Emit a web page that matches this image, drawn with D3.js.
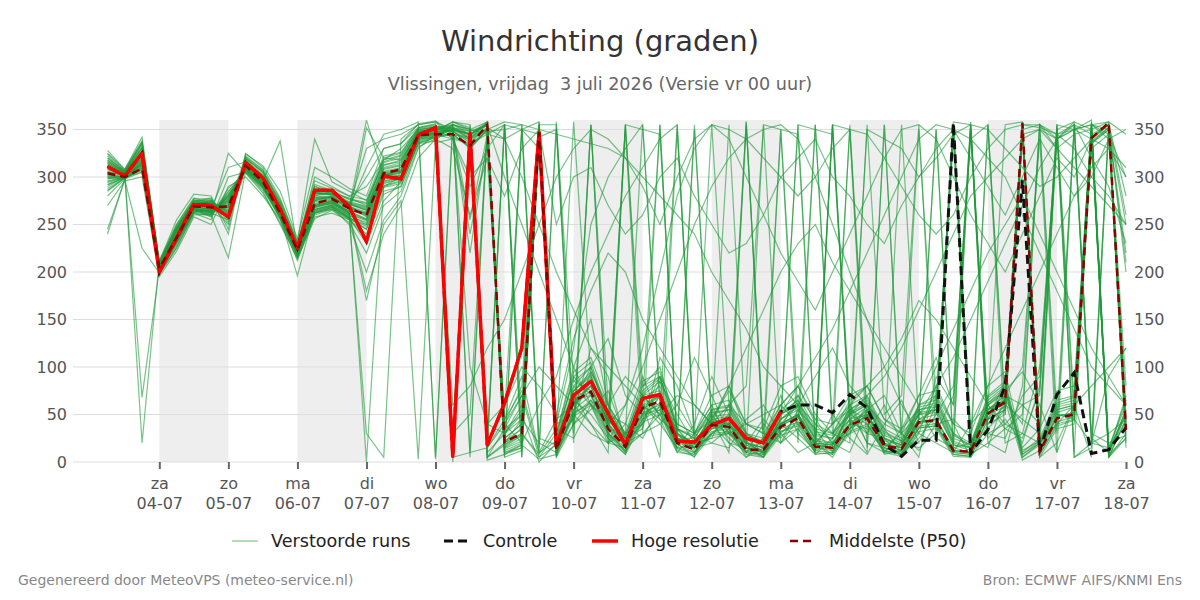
<!DOCTYPE html>
<html>
<head>
<meta charset="utf-8">
<script src="https://cdn.jsdelivr.net/npm/d3@7"></script>
<style>
  body { margin: 0; background: #fff; }
  svg text { font-family: "DejaVu Sans", sans-serif; }
</style>
</head>
<body>
<svg id="drawing_region"></svg>
<script>
// values (6-hourly, 03-07 06:00 .. 18-07 00:00)
const dayLabels  = ['za','zo','ma','di','wo','do','vr','za','zo','ma','di','wo','do','vr','za'];
const dateLabels = ['04-07','05-07','06-07','07-07','08-07','09-07','10-07','11-07','12-07','13-07','14-07','15-07','16-07','17-07','18-07'];
const yTicks = [0, 50, 100, 150, 200, 250, 300, 350];
const shadedDays = [4, 6, 8, 10, 12, 14, 16];

const hiRes = [311,301,325,200,236,271,270,258,315,299,266,225,286,286,269,232,301,298,344,352,
  6,346,18,62,120,347,16,70,85,51,18,67,71,22,21,39,46,25,20,53];

const control = [311,301,325,200,236,271,270,258,315,299,266,225,286,286,269,232,301,298,344,352,
  6,346,18,62,120,347,16,70,85,51,18,67,71,22,21,39,46,25,20,
  53,60,60,52,71,57,18,6,23,23,357,9,34,80,297,11,71,94,9,13,36];

const median = [304,300,309,204,236,269,268,269,312,295,262,223,272,277,267,260,304,308,344,345,
  345,333,355,21,30,347,13,64,74,35,16,57,64,20,13,39,37,13,13,37,
  46,16,15,39,46,17,14,42,44,12,11,51,63,357,11,46,50,341,357,34];

const perturbed = [
  [318,305,330,207,240,272,275,262,318,300,270,228,280,285,272,265,310,315,348,350, 352,340,358,15,25,340,10,60,80,40, 20,55,70,25,15,35,40,15,10,40, 50,20,18,35,50,20,15,45,40,10, 8,55,70,355,15,50,45,338,352,250],
  [300,298,315,200,230,265,260,280,310,290,258,196,265,270,260,250,295,300,340,342, 345,330,350,25,40,350,25,45,95,60, 30,40,85,50,20,25,60,40,30,20, 55,35,10,60,30,25,5,30,80,40, 350,30,25,70,90,340,350,20,15,60],
  [325,308,338,210,245,276,270,250,320,305,275,230,290,282,278,270,320,325,352,355, 5,350,10,30,55,355,20,80,100,45, 25,70,85,30,20,50,55,20,15,45, 60,25,20,50,60,25,18,50,55,20, 15,60,75,5,20,55,60,350,5,45],
  [290,300,305,198,225,262,255,300,305,285,250,215,258,262,255,240,285,290,335,338, 355,345,355,10,15,345,5,80,60,20, 40,90,45,10,30,60,20,5,25,70, 30,12,50,25,8,40,65,20,60,358, 355,25,45,20,80,355,10,355,345,20],
  [310,302,320,205,235,270,265,275,315,298,268,225,275,280,270,330,340,345,355,358, 350,220,340,40,80,355,30,95,110,60, 30,85,95,40,30,60,65,30,25,55, 70,35,30,60,70,35,25,60,65,30, 20,70,85,10,25,65,70,355,10,55],
  [270,296,300,195,222,258,250,290,300,280,255,212,262,268,250,200,255,280,330,345, 340,335,345,355,20,330,40,50,120,90, 20,30,40,60,110,70,30,15,5,50, 80,40,20,10,55,70,30,12,40,45, 25,15,70,100,340,10,60,5,350,80],
  [315,304,20,212,250,278,272,268,322,308,262,228,300,290,280,290,318,330,350,5, 358,350,5,20,30,5,18,65,70,38, 18,52,60,22,15,40,42,15,12,38, 48,18,15,40,48,18,12,42,45,12, 10,52,65,2,12,48,52,342,355,35],
  [295,300,68,203,238,268,262,255,308,292,265,220,268,275,262,180,240,270,320,340, 330,260,320,50,350,358,40,120,250,300, 330,355,60,40,30,70,80,40,30,60, 80,45,40,70,80,45,35,70,75,40, 30,80,95,15,35,75,80,358,15,65],
  [305,303,312,206,242,270,268,270,312,296,338,224,278,278,268,360,300,310,345,350, 348,338,352,340,350,345,15,70,40,10, 355,80,100,35,15,50,25,10,40,20, 35,10,355,60,20,15,30,5,90,60, 350,20,10,80,355,330,345,350,5,25],
  [245,297,225,199,228,263,266,310,316,302,272,222,270,272,264,255,305,300,343,347, 10,345,20,355,5,350,25,358,90,40, 355,60,5,350,20,45,355,20,10,350, 50,25,355,40,10,355,20,45,350,15, 10,355,60,350,15,350,45,20,355,40],
  [320,306,335,209,247,274,278,240,325,310,278,232,340,295,285,275,315,320,350,352, 355,5,350,15,350,10,358,30,355,20, 30,355,65,25,355,40,30,358,20,40, 355,20,15,355,50,20,355,40,45,15, 350,55,70,355,20,45,355,345,5,30],
  [300,301,318,202,232,266,258,285,306,288,260,218,266,270,258,30,5,340,355,358, 340,300,320,280,330,350,250,300,310,270, 240,260,300,320,280,250,220,230,260,300, 320,340,300,280,250,230,270,300,330,350, 320,290,260,300,340,310,280,300,340,350],
  [312,304,328,208,244,271,271,265,314,297,266,226,282,283,270,258,302,305,345,348, 20,350,40,60,100,80,50,130,180,220, 200,150,120,90,60,40,80,120,160,200, 230,250,210,180,150,120,90,60,100,140, 180,220,250,280,240,200,160,120,90,60],
  [285,299,308,201,234,264,264,278,309,291,259,219,262,268,258,245,290,295,338,343, 350,345,355,30,45,20,10,50,30,20, 60,100,150,200,250,290,320,340,350,355, 340,300,250,200,150,100,60,30,20,10, 40,80,120,160,200,240,280,310,330,300],
  [328,308,342,211,255,282,280,245,324,312,285,235,310,300,288,280,330,335,356,359, 345,340,350,358,355,350,345,340,335,330, 320,300,280,260,240,200,170,140,100,80, 60,40,30,50,70,90,120,160,200,240, 280,300,320,340,350,330,310,290,270,250],
  [240,298,310,197,226,260,261,325,304,283,252,214,256,265,252,220,270,285,332,340, 5,10,15,40,70,100,80,60,40,20, 15,30,50,70,60,40,20,15,355,350, 345,20,40,60,80,100,130,170,150,120, 90,60,40,30,20,40,60,80,100,120],
  [308,302,322,204,239,269,267,272,313,295,265,223,276,279,268,310,345,350,358,3, 355,350,345,340,300,250,200,160,120,100, 80,60,45,30,20,25,30,40,50,60, 80,110,140,180,220,260,300,340,355,350, 340,320,300,260,220,180,140,100,80,60],
  [302,300,316,203,237,267,263,268,311,294,263,221,272,276,264,262,303,306,344,346, 350,342,356,18,28,352,30,100,150,60, 20,70,50,20,5,45,80,30,15,50, 60,8,25,45,30,60,20,15,30,70, 355,40,60,45,30,350,358,25,10,70],
  [316,305,332,208,243,273,273,260,317,301,269,227,284,281,273,268,312,318,348,351, 8,355,15,45,90,10,22,75,95,55, 28,72,88,35,25,55,58,25,20,50, 65,30,25,55,65,30,22,55,60,25, 18,65,80,8,22,60,65,355,8,50],
  [292,299,310,200,233,265,262,282,307,289,257,217,264,269,256,250,293,298,340,344, 345,332,350,5,12,340,10,40,55,75, 25,35,110,80,30,20,15,45,60,30, 10,20,40,55,20,10,35,55,25,15, 20,45,85,355,5,20,60,340,355,15],
  [322,306,336,209,248,275,276,255,319,306,273,229,292,286,276,272,316,322,349,353, 352,345,358,22,35,355,355,85,75,45, 20,65,355,20,15,45,40,358,12,40, 50,18,355,42,50,18,15,45,350,12, 10,55,65,355,355,50,50,345,355,35],
  [298,301,314,202,236,266,265,276,310,293,262,220,270,274,262,170,250,275,3,336, 340,290,330,355,350,330,10,55,70,30, 15,50,62,18,10,35,38,12,8,35, 42,15,12,35,45,15,10,38,40,10, 8,50,58,350,12,42,48,336,352,200],
  [306,303,320,205,241,270,269,266,313,297,266,224,279,280,269,259,300,304,344,347, 0,340,5,35,50,0,20,90,70,35, 10,60,40,15,40,90,50,25,10,35, 70,45,20,30,60,35,10,25,50,80, 340,355,20,30,100,345,350,355,340,60],
  [280,298,305,199,231,262,259,288,305,287,256,216,260,266,255,235,282,290,336,341, 355,348,355,12,20,345,8,55,85,50, 40,25,60,35,12,30,40,10,25,60, 40,20,5,35,55,25,15,60,70,40, 5,30,40,60,70,350,5,20,30,45],
  [314,304,326,207,245,272,274,263,316,300,268,226,283,282,271,265,308,312,347,350, 348,255,345,30,60,350,25,90,105,50, 25,80,90,35,28,55,60,28,22,52, 65,32,28,55,68,32,22,58,62,28, 18,68,82,12,22,62,68,352,12,52],
  [296,300,313,201,235,266,264,279,309,292,261,219,268,273,260,352,320,318,346,349, 358,352,2,8,18,3,8,52,62,28, 10,45,55,14,8,30,32,10,6,32, 38,12,10,32,40,12,8,36,38,8, 6,45,55,355,8,38,44,336,350,210],
  [310,303,324,206,243,271,270,268,314,298,267,225,277,279,269,263,305,308,346,349, 342,335,348,350,355,25,18,70,88,42, 355,350,345,25,20,48,50,20,15,45, 58,22,20,45,58,22,18,50,52,18, 12,60,72,358,18,52,58,350,358,42],
  [288,299,309,200,232,264,261,284,308,290,258,218,263,267,257,248,291,296,339,344, 350,340,355,20,45,352,20,75,92,45, 22,65,80,28,20,45,48,20,15,45, 355,350,345,50,60,25,18,52,55,18, 15,62,75,5,18,55,60,352,5,45],
  [324,307,337,210,250,277,277,252,321,307,276,231,296,288,280,276,322,326,351,354, 345,240,335,45,75,10,45,60,100,130, 70,50,90,60,30,45,75,40,35,80, 90,50,30,65,80,45,30,70,110,60, 358,50,75,95,60,10,355,20,90,120],
  [304,302,318,204,238,268,266,271,312,295,264,222,274,277,266,260,301,305,344,347, 352,345,356,14,22,348,10,50,65,45, 20,40,70,30,10,30,45,15,10,40, 50,20,8,40,55,10,12,45,50,340, 15,35,55,345,350,340,358,350,8,25],
  [300,300,316,203,236,267,263,274,310,293,262,221,270,274,263,0,290,300,342,346, 10,350,25,355,5,345,15,62,80,35, 18,58,70,22,15,38,40,15,10,38, 48,18,15,38,48,18,12,42,45,12, 10,52,65,355,12,48,52,342,356,280],
  [312,304,327,207,244,272,272,264,315,299,267,226,281,282,271,266,306,310,346,350, 348,336,352,10,18,342,350,40,65,30, 12,48,58,15,10,32,35,10,8,32, 40,12,355,350,40,12,8,36,38,8, 6,45,55,350,8,40,45,335,350,25],
  [294,300,312,201,234,265,263,280,308,291,260,219,266,271,259,252,294,299,341,345, 355,350,358,25,40,355,12,65,50,25, 8,70,75,30,15,20,35,5,15,40, 25,8,10,45,50,20,8,45,55,350, 8,20,35,50,355,345,355,30,20,28],
  [318,305,331,208,246,274,274,258,318,303,270,228,288,284,274,269,313,316,348,351, 350,330,350,35,70,5,30,85,100,50, 28,75,90,35,25,52,55,25,20,50, 62,28,25,52,62,28,20,55,58,22, 15,62,78,8,20,58,62,350,10,50],
  [286,299,307,200,231,263,260,215,306,289,257,217,262,266,256,245,289,293,337,342, 345,342,350,8,15,338,6,48,60,25, 8,42,50,12,6,28,30,8,5,28, 35,10,8,30,38,10,6,32,35,6, 5,40,50,345,5,35,40,330,345,300],
  [308,303,323,205,240,270,268,269,313,297,266,224,278,279,268,261,304,307,345,348, 358,355,5,18,30,8,35,25,60,45, 25,50,55,10,8,55,30,20,45,25, 50,15,20,40,35,12,18,50,70,30, 15,55,65,40,355,340,350,360,15,40],
  [320,306,334,209,247,275,275,256,320,305,272,229,290,285,277,273,318,323,350,353, 350,344,356,20,35,350,18,75,90,40, 15,45,70,25,25,35,50,18,5,45, 55,25,12,55,45,8,12,40,60,355, 20,60,35,25,75,355,350,340,10,55],
  [302,301,317,203,237,267,265,273,311,294,263,221,271,275,264,256,299,302,343,346, 350,345,355,300,250,200,150,100,60,40, 60,120,200,280,330,355,350,340,320,300, 280,300,330,350,345,320,290,260,240,260, 300,330,350,355,352,345,330,300,280,250],
  [314,304,327,207,245,272,273,262,316,300,268,227,284,283,272,267,309,313,347,351, 352,348,354,16,28,350,28,60,75,30, 12,65,60,15,18,42,40,22,8,30, 48,12,18,50,40,15,8,35,68,20, 355,45,70,60,40,340,5,15,355,30],
  [298,300,314,202,235,266,264,277,309,292,261,220,268,272,261,254,296,300,341,345, 350,100,40,30,50,350,20,65,80,40, 20,60,70,25,18,42,45,18,12,40, 50,20,18,40,350,340,330,300,320,345, 355,350,330,310,290,300,320,340,330,310],
  [305,302,319,204,239,268,266,270,312,296,265,223,275,278,267,262,302,306,345,349, 355,10,350,5,355,15,350,20,355,25, 350,30,355,20,350,45,10,355,30,350, 20,355,40,350,15,355,30,350,60,355, 20,355,50,350,355,30,350,355,358,345],
  [292,300,311,201,233,265,262,281,307,290,258,218,264,269,257,230,275,295,335,342, 60,80,120,150,200,250,300,330,350,340, 320,290,250,300,340,355,340,300,260,220, 190,160,200,240,280,320,350,355,340,300, 260,230,200,240,280,320,300,340,355,260],
  [316,305,330,208,244,273,272,261,317,301,268,227,283,282,272,300,330,335,352,356, 30,50,350,40,20,60,90,150,200,240, 280,310,340,355,20,40,60,30,20,40, 60,90,120,80,60,40,30,50,80,110, 150,190,230,270,310,340,355,320,290,230],
  [300,301,315,202,236,266,264,275,310,293,262,220,269,273,262,255,298,301,342,346, 350,345,15,355,40,358,5,40,355,60, 90,70,50,355,30,355,60,80,355,20, 45,355,30,20,355,50,70,355,25,355, 40,60,355,358,30,355,60,355,350,220]
];

const config = {
  width: 1200, height: 600,
  left: 73, right: 1126, top: 120, bottom: 462
};

const times = d3.range(60).map(i => new Date(2026, 6, 3, 6 + 6 * i));
const days = d3.range(4, 19).map(d => new Date(2026, 6, d));

const svg = d3.select('#drawing_region')
  .attr('width', config.width)
  .attr('height', config.height);

const xscale = d3.scaleTime()
  .domain([new Date(2026, 6, 2, 18), new Date(2026, 6, 18)])
  .range([config.left, config.right]);

const yscale = d3.scaleLinear()
  .domain([0, 360])
  .range([config.bottom, config.top]);

// shading on alternating days
svg.append('g').selectAll('rect').data(shadedDays).enter()
  .append('rect')
  .attr('x', d => xscale(new Date(2026, 6, d)))
  .attr('width', d => xscale(new Date(2026, 6, d + 1)) - xscale(new Date(2026, 6, d)))
  .attr('y', config.top)
  .attr('height', config.bottom - config.top)
  .attr('fill', '#eeeeee');

// grid
svg.append('g').selectAll('line').data(yTicks).enter()
  .append('line')
  .attr('x1', config.left).attr('x2', config.right)
  .attr('y1', d => yscale(d)).attr('y2', d => yscale(d))
  .attr('stroke', '#dddddd').attr('stroke-width', 1);

const line = d3.line()
  .x((d, i) => xscale(times[i]))
  .y(d => yscale(d));

svg.append('g').selectAll('path').data(perturbed).enter()
  .append('path')
  .attr('d', d => line(d))
  .attr('fill', 'none')
  .attr('stroke', '#1f9a3a')
  .attr('stroke-opacity', 0.6)
  .attr('stroke-width', 1.2);

svg.append('path')
  .attr('d', line(control))
  .attr('fill', 'none')
  .attr('stroke', '#111')
  .attr('stroke-width', 3)
  .attr('stroke-dasharray', '9,5');

svg.append('path')
  .attr('d', line(hiRes))
  .attr('fill', 'none')
  .attr('stroke', '#ff0000')
  .attr('stroke-width', 3.5)
  .attr('stroke-linejoin', 'round');

svg.append('path')
  .attr('d', line(median))
  .attr('fill', 'none')
  .attr('stroke', '#8b0000')
  .attr('stroke-width', 2.5)
  .attr('stroke-dasharray', '8,5');

// axes
const yaxisL = d3.axisLeft(yscale).tickValues(yTicks).tickSize(0).tickPadding(6);
const yaxisR = d3.axisRight(yscale).tickValues(yTicks).tickSize(0).tickPadding(8);

const gl = svg.append('g').attr('transform', `translate(${config.left},0)`).call(yaxisL);
const gr = svg.append('g').attr('transform', `translate(${config.right},0)`).call(yaxisR);
[gl, gr].forEach(g => {
  g.select('.domain').remove();
  g.selectAll('text').attr('font-size', '16px').attr('fill', '#555')
    .attr('font-family', '"DejaVu Sans", sans-serif');
});

const xaxis = d3.axisBottom(xscale).tickValues(days).tickSize(7).tickFormat('');
const gx = svg.append('g').attr('transform', `translate(0,${config.bottom})`).call(xaxis);
gx.select('.domain').remove();
gx.selectAll('.tick line').attr('stroke', '#666').attr('stroke-width', 2);
gx.selectAll('.tick').each(function (d, i) {
  const t = d3.select(this);
  t.append('text').attr('y', 27).attr('text-anchor', 'middle')
    .attr('font-size', '16px').attr('fill', '#555').text(dayLabels[i]);
  t.append('text').attr('y', 47).attr('text-anchor', 'middle')
    .attr('font-size', '16px').attr('fill', '#555').text(dateLabels[i]);
});

// titles
svg.append('text').attr('x', 600).attr('y', 51).attr('text-anchor', 'middle')
  .attr('font-size', '29px').attr('fill', '#333').text('Windrichting (graden)');
svg.append('text').attr('x', 600).attr('y', 90).attr('text-anchor', 'middle')
  .attr('font-size', '17.6px').attr('fill', '#666')
  .attr('xml:space', 'preserve')
  .text('Vlissingen, vrijdag  3 juli 2026 (Versie vr 00 uur)');

// legend
const legend = [
  {label: 'Verstoorde runs', x: 232, stroke: '#7cc68a', w: 1.2, dash: null},
  {label: 'Controle', x: 444, stroke: '#111', w: 3, dash: '9,5'},
  {label: 'Hoge resolutie', x: 592, stroke: '#ff0000', w: 3.5, dash: null},
  {label: 'Middelste (P50)', x: 790, stroke: '#8b0000', w: 2.5, dash: '8,5'}
];
const lg = svg.append('g').selectAll('g').data(legend).enter().append('g');
lg.append('line')
  .attr('x1', d => d.x).attr('x2', d => d.x + 26)
  .attr('y1', 541).attr('y2', 541)
  .attr('stroke', d => d.stroke).attr('stroke-width', d => d.w)
  .attr('stroke-dasharray', d => d.dash);
lg.append('text')
  .attr('x', d => d.x + 39).attr('y', 547)
  .attr('font-size', '17.6px').attr('fill', '#222')
  .text(d => d.label);

// footer
svg.append('text').attr('x', 18).attr('y', 585)
  .attr('font-size', '14px').attr('fill', '#888')
  .text('Gegenereerd door MeteoVPS (meteo-service.nl)');
svg.append('text').attr('x', 1182).attr('y', 585).attr('text-anchor', 'end')
  .attr('font-size', '14px').attr('fill', '#888')
  .text('Bron: ECMWF AIFS/KNMI Ens');
</script>
</body>
</html>
